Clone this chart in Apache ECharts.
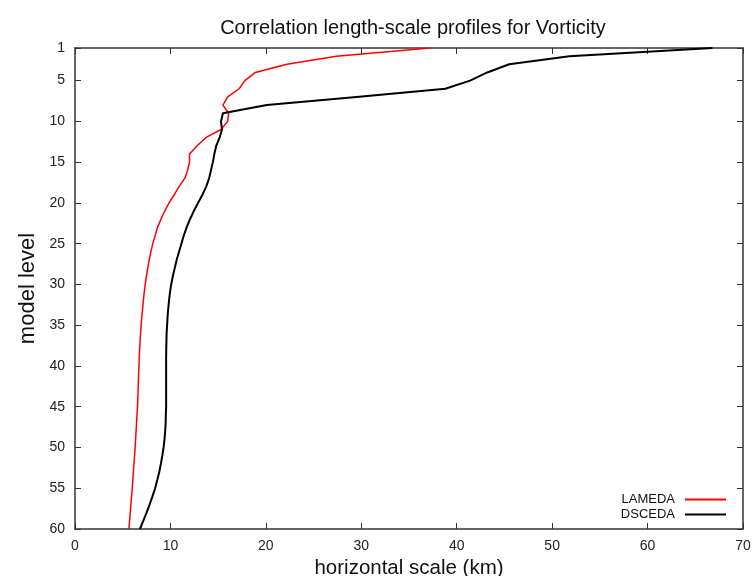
<!DOCTYPE html>
<html>
<head>
<meta charset="utf-8">
<script src="https://cdn.jsdelivr.net/npm/echarts@6/dist/echarts.min.js"></script>
<style>
  html, body { margin: 0; padding: 0; background: #fff; }
  #chart { width: 754px; height: 576px; }
</style>
</head>
<body>
<div id="chart"></div>
<script>
// model levels 1..60 (top to bottom)
const levels = Array.from({ length: 60 }, (_, i) => i + 1)

// horizontal correlation length-scale (km) per level
const lameda = [
  37.2, 27.4, 22.2, 18.9, 17.8, 17.2, 16.0, 15.5, 16.1, 16.0,
  15.3, 13.7, 12.8, 12.0, 12.0, 11.8, 11.5, 10.9, 10.4, 9.85,
  9.4, 9.0, 8.65, 8.4, 8.15, 7.95, 7.78, 7.62, 7.48, 7.36,
  7.25, 7.16, 7.08, 7.0, 6.93, 6.87, 6.82, 6.77, 6.73, 6.7,
  6.67, 6.64, 6.61, 6.58, 6.55, 6.5, 6.45, 6.4, 6.35, 6.3,
  6.24, 6.18, 6.12, 6.06, 6.0, 5.93, 5.86, 5.79, 5.72, 5.65
]
const dsceda = [
  66.8, 51.8, 45.5, 43.2, 41.4, 38.8, 29.5, 20.1, 15.5, 15.3,
  15.4, 15.15, 14.8, 14.6, 14.45, 14.25, 14.05, 13.75, 13.35, 12.9,
  12.45, 12.05, 11.7, 11.4, 11.15, 10.9, 10.65, 10.45, 10.25, 10.08,
  9.95, 9.85, 9.77, 9.7, 9.65, 9.6, 9.58, 9.56, 9.55, 9.55,
  9.55, 9.55, 9.55, 9.55, 9.55, 9.52, 9.5, 9.45, 9.38, 9.28,
  9.15, 9.0, 8.83, 8.62, 8.4, 8.12, 7.82, 7.5, 7.15, 6.8
]

const levelTicks = [1, 5, 10, 15, 20, 25, 30, 35, 40, 45, 50, 55, 60]

const font = 'Liberation Sans, Arial, sans-serif'
const axisColor = '#333'

const chart = echarts.init(document.getElementById('chart'))

// gnuplot style: full box, ticks inside on all four sides
const xBase = {
  type: 'value', min: 0, max: 70, interval: 10,
  axisLine: { show: true, onZero: false, lineStyle: { color: axisColor, width: 1.5 } },
  axisTick: { show: true, inside: true, length: 6, lineStyle: { color: axisColor } },
  splitLine: { show: false }
}
const yBase = {
  type: 'value', min: 1, max: 60, inverse: true,
  axisLine: { show: true, onZero: false, lineStyle: { color: axisColor, width: 1.5 } },
  axisTick: { show: true, inside: true, length: 6, customValues: levelTicks, lineStyle: { color: axisColor } },
  splitLine: { show: false }
}

chart.setOption({
  animation: false,
  backgroundColor: '#fff',
  title: {
    text: 'Correlation length-scale profiles for Vorticity',
    left: 408, top: 13, textAlign: 'center',
    textStyle: { fontFamily: font, fontSize: 20, fontWeight: 'normal', color: '#111' }
  },
  grid: { left: 75, right: 11, top: 48, bottom: 47, outerBoundsMode: 'none' },
  legend: {
    right: 23, top: 488, orient: 'vertical', align: 'right',
    itemWidth: 41, itemHeight: 2, itemGap: 2, icon: 'rect',
    textStyle: { fontFamily: font, fontSize: 13, color: '#111', padding: [0, 5, 0, 0] },
    data: [
      { name: 'LAMEDA', itemStyle: { color: '#ff0000' } },
      { name: 'DSCEDA', itemStyle: { color: '#000' } }
    ]
  },
  xAxis: [
    Object.assign({}, xBase, {
      position: 'bottom',
      name: 'horizontal scale (km)', nameLocation: 'middle', nameGap: 28,
      nameTextStyle: { fontFamily: font, fontSize: 20.5, color: '#111' },
      axisLabel: { show: true, margin: 10, fontFamily: font, fontSize: 14, color: '#222' }
    }),
    Object.assign({}, xBase, { position: 'top', axisLabel: { show: false } })
  ],
  yAxis: [
    Object.assign({}, yBase, {
      position: 'left',
      name: 'model level', nameLocation: 'middle', nameGap: 32, nameRotate: 90,
      nameTextStyle: { fontFamily: font, fontSize: 22, color: '#111' },
      axisLabel: { show: true, margin: 10, customValues: levelTicks, fontFamily: font, fontSize: 14, color: '#222' }
    }),
    Object.assign({}, yBase, { position: 'right', axisLabel: { show: false } })
  ],
  series: [
    {
      name: 'LAMEDA', type: 'line', showSymbol: false, symbol: 'none',
      color: '#ff0000', lineStyle: { color: '#ff0000', width: 1.5 },
      data: levels.map((lv, i) => [lameda[i], lv])
    },
    {
      name: 'DSCEDA', type: 'line', showSymbol: false, symbol: 'none',
      color: '#000', lineStyle: { color: '#000', width: 2 },
      data: levels.map((lv, i) => [dsceda[i], lv])
    }
  ]
})
</script>
</body>
</html>
